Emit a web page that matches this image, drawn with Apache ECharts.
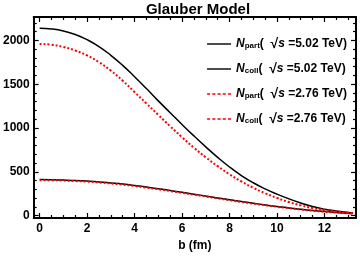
<!DOCTYPE html>
<html><head><meta charset="utf-8">
<script src="https://cdn.jsdelivr.net/npm/echarts@6/dist/echarts.min.js"></script>
<style>html,body{margin:0;padding:0;background:#fff}#c{width:360px;height:257px}</style>
</head><body><div id="c"></div>
<script>
const bValues = [0,0.5,1,1.5,2,2.5,3,3.5,4,4.5,5,5.5,6,6.5,7,7.5,8,8.5,9,9.5,10,10.5,11,11.5,12,12.5,13,13.2];
const ncoll502 = [2140,2131,2108,2068,2008,1930,1830,1715,1585,1450,1310,1175,1040,910,785,665,555,458,375,305,245,192,145,104,74,53,37,32];
const ncoll276 = [1959,1950,1925,1885,1828,1752,1655,1540,1410,1280,1150,1020,895,775,665,565,472,390,318,256,202,155,117,86,63,46,33,29];
const npart502 = [411,410,406,401,394,385,373,360,344,326,307,287,266,245,223,202,181,160,141,122,104,88,72,58,46,36,27,24];
const npart276 = [405,404,400,395,388,379,367,354,338,320,301,281,260,239,218,197,176,156,137,119,101,85,70,56,44,34,26,23];
const xMajor = [0,2,4,6,8,10,12];
const yMajor = [0,500,1000,1500,2000];
const labels = {
  'Npart502': '{n|N}{sub|part}{t|(  }{sq|√}{s|s}{t| =5.02 TeV)}',
  'Ncoll502': '{n|N}{sub|coll}{t|(  }{sq|√}{s|s}{t| =5.02 TeV)}',
  'Npart276': '{n|N}{sub|part}{t|(  }{sq|√}{s|s}{t| =2.76 TeV)}',
  'Ncoll276': '{n|N}{sub|coll}{t|(  }{sq|√}{s|s}{t| =2.76 TeV)}'
};
const xMinor = []; for (let v = 0; v <= 13.3; v += 0.5) if (v % 2 !== 0) xMinor.push(v);
const yMinor = []; for (let v = 0; v <= 2200; v += 100) if (v % 500 !== 0) yMinor.push(v);
const pairs = arr => bValues.map((b, i) => [b, arr[i]]);
const font = '"Liberation Sans", Arial, sans-serif';
const xr = {min: -0.25, max: 13.33};
const yr = {min: -27, max: 2267};
function xAx(pos, vals, len, lab, showLine) {
  return Object.assign({type:'value', position:pos, splitLine:{show:false},
    axisLine:{show:showLine, onZero:false, lineStyle:{color:'#000', width:2}},
    axisTick:{show:true, inside:true, length:len, customValues:vals, lineStyle:{color:'#000', width:1.2}},
    axisLabel:{show:lab, customValues:vals, formatter: v => String(v), color:'#000', fontWeight:'bold', fontSize:12, fontFamily:font, margin:5}}, xr);
}
function yAx(pos, vals, len, lab, showLine) {
  return Object.assign({type:'value', position:pos, splitLine:{show:false},
    axisLine:{show:showLine, onZero:false, lineStyle:{color:'#000', width:2}},
    axisTick:{show:true, inside:true, length:len, customValues:vals, lineStyle:{color:'#000', width:1.2}},
    axisLabel:{show:lab, customValues:vals, formatter: v => String(v), color:'#000', fontWeight:'bold', fontSize:12, fontFamily:font, margin:4}}, yr);
}
const xAxes = [xAx('bottom', xMajor, 5, true, true), xAx('bottom', xMinor, 3, false, false), xAx('top', xMajor, 5, false, true), xAx('top', xMinor, 3, false, false)];
xAxes[0].name = 'b (fm)'; xAxes[0].nameLocation = 'middle'; xAxes[0].nameGap = 22;
xAxes[0].nameTextStyle = {color:'#000', fontWeight:'bold', fontSize:12, fontFamily:font};
const yAxes = [yAx('left', yMajor, 5, true, true), yAx('left', yMinor, 3, false, false), yAx('right', yMajor, 5, false, true), yAx('right', yMinor, 3, false, false)];
const chart = echarts.init(document.getElementById('c'), null, {renderer:'canvas'});
const mk = (name, arr, color, type, w, z) => ({name, type:'line', data:pairs(arr), smooth:true, showSymbol:false, symbol:'none', z,
  lineStyle:{color, type, width:w}, itemStyle:{color}});
const solidIcon = 'path://M0,0H24V1.4H0Z';
const dashIcon = 'path://M0,0H3V1.4H0ZM5,0H8V1.4H5ZM10,0H13V1.4H10ZM15,0H18V1.4H15ZM20,0H23V1.4H20Z';
chart.setOption({
  animation:false,
  title:{text:'Glauber Model', left:193, textAlign:'center', top:-3, textStyle:{color:'#000', fontWeight:'bold', fontSize:15, fontFamily:font}},
  grid:{left:30, right:4, top:17, bottom:36},
  xAxis:xAxes, yAxis:yAxes,
  legend:{orient:'vertical', right:8, top:32, itemWidth:24, itemHeight:1.4, itemGap:11, align:'left', symbolKeepAspect:false,
    data:[{name:'Npart502', icon:solidIcon, itemStyle:{color:'#000'}},
          {name:'Ncoll502', icon:solidIcon, itemStyle:{color:'#000'}},
          {name:'Npart276', icon:dashIcon, itemStyle:{color:'#ff0000'}},
          {name:'Ncoll276', icon:dashIcon, itemStyle:{color:'#ff0000'}}],
    formatter: n => labels[n],
    textStyle:{color:'#000', fontFamily:font, lineHeight:12, rich:{
      n:{fontStyle:'italic', fontWeight:'bold', fontSize:12, fontFamily:font, color:'#000'},
      sub:{fontWeight:'bold', fontSize:8, fontFamily:font, color:'#000', verticalAlign:'bottom', padding:[6,0,0,0]},
      t:{fontWeight:'bold', fontSize:12, fontFamily:font, color:'#000'},
      sq:{fontWeight:'bold', fontSize:14, fontFamily:font, color:'#000'},
      s:{fontStyle:'italic', fontWeight:'bold', fontSize:12, fontFamily:font, color:'#000'}
    }}},
  series:[
    mk('Npart502', npart502, '#000', 'solid', 1.5, 2),
    mk('Ncoll502', ncoll502, '#000', 'solid', 1.5, 2),
    mk('Npart276', npart276, '#ff0000', [2,2], 2, 3),
    mk('Ncoll276', ncoll276, '#ff0000', [2,2], 2, 3)
  ]
});
</script></body></html>
